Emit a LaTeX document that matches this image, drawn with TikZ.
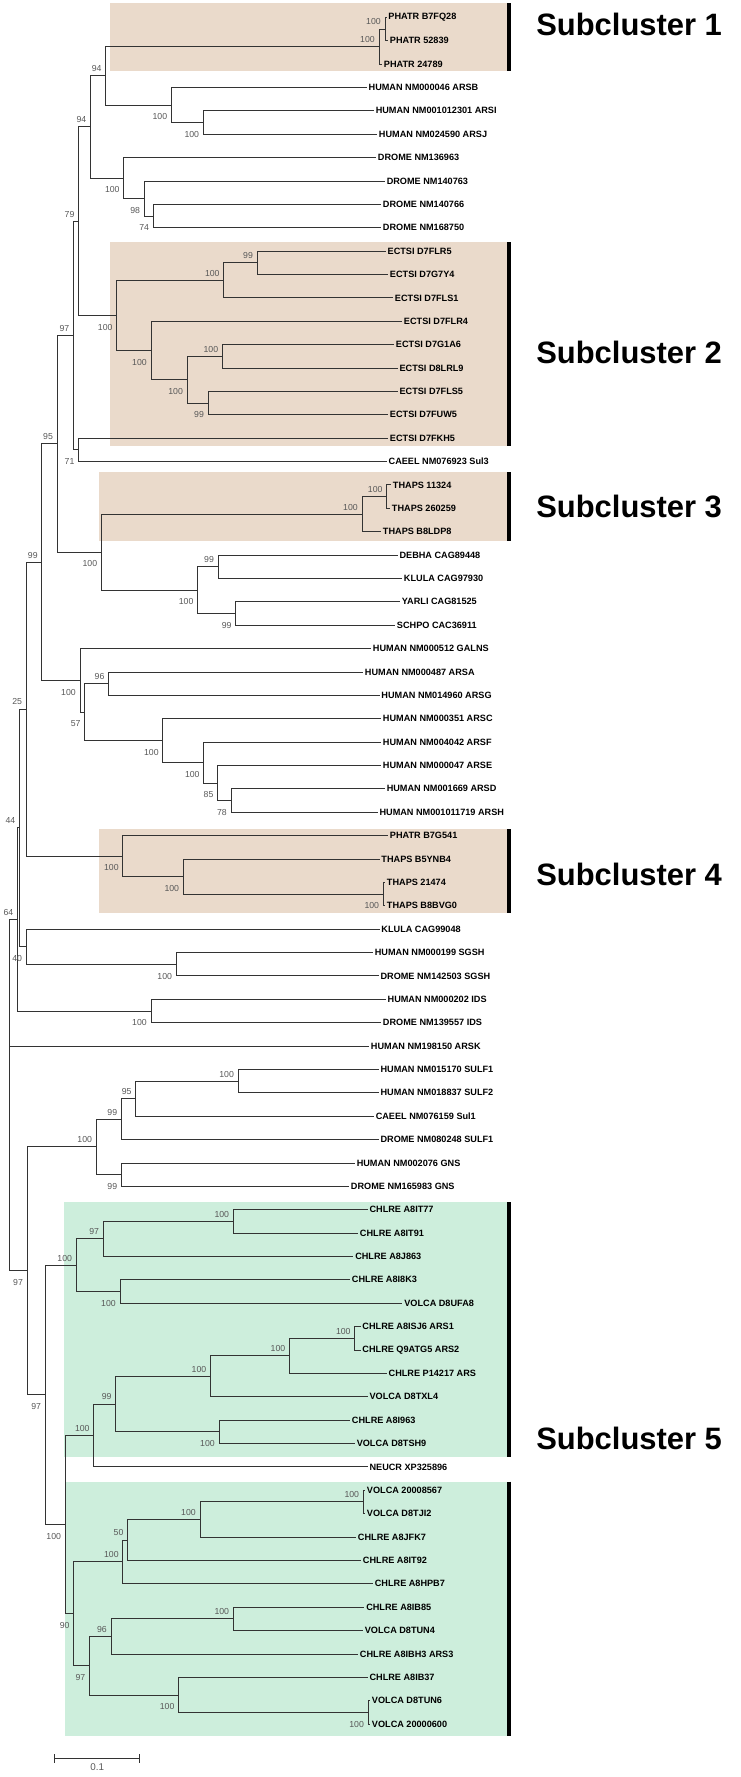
\documentclass[tikz,border=0pt]{standalone}
\usepackage{fontspec}
\setmainfont{Liberation Sans}
\usetikzlibrary{calc}

\definecolor{subbeige}{RGB}{234,218,203}
\definecolor{subgreen}{RGB}{205,238,220}

\tikzset{
  branch/.style={draw=black!80, line width=0.6pt},
  leaf/.style={anchor=west, inner sep=1.2pt, font=\bfseries\fontsize{6.5}{7}\selectfont},
  bsbase/.style={inner sep=0pt, text=black!65, font=\fontsize{6.2}{7}\selectfont},
  bsa/.style={bsbase, anchor=south east, xshift=-2.8pt, yshift=2.6pt},
  bsb/.style={bsbase, anchor=north east, xshift=-2.8pt, yshift=-6pt},
  subc/.style={anchor=west, inner sep=0pt, font=\bfseries\fontsize{22}{25}\selectfont},
  bar/.style={line width=2.3pt}
}

\begin{document}
\begin{tikzpicture}[x=0.25mm, y=-0.25mm]
  \useasboundingbox (0,0) rectangle (740,1777);

  % boxes of the subclusters
  \fill[subbeige] (110,3.3) rectangle (509,70.7);
  \fill[subbeige] (110,242.3) rectangle (509,445.7);
  \fill[subbeige] (98.6,472.3) rectangle (509,540.7);
  \fill[subbeige] (98.6,829) rectangle (509,913.3);
  \fill[subgreen] (64.3,1202.3) rectangle (509,1456.7);
  \fill[subgreen] (65.2,1481.7) rectangle (509,1735.7);

  \foreach \ya/\yb in {3.3/70.7, 242.3/445.7, 472.3/540.7, 829/913.3, 1202.3/1456.7, 1481.7/1735.7}
    \draw[bar] (509,\ya) -- (509,\yb);

  \node[subc] (sc1) at (536,24) {Subcluster 1};
  \node[subc] (sc2) at (536,352) {Subcluster 2};
  \node[subc] (sc3) at (536,506) {Subcluster 3};
  \node[subc] (sc4) at (536,874) {Subcluster 4};
  \node[subc] (sc5) at (536,1438) {Subcluster 5};

  % leaves
  \foreach \nm/\tx/\txt [count=\i] in {
    phatrB7FQ28/386.5/PHATR B7FQ28, phatr52839/388/PHATR 52839, phatr24789/382/PHATR 24789,
    arsb/366.7/HUMAN NM000046 ARSB, arsi/373.8/HUMAN NM001012301 ARSI, arsj/377/HUMAN NM024590 ARSJ,
    drome136963/376/DROME NM136963, drome140763/384.8/DROME NM140763,
    drome140766/381/DROME NM140766, drome168750/381/DROME NM168750,
    ectsiFLR5/385.7/ECTSI D7FLR5, ectsiG7Y4/388/ECTSI D7G7Y4, ectsiFLS1/393/ECTSI D7FLS1,
    ectsiFLR4/402/ECTSI D7FLR4, ectsiG1A6/394/ECTSI D7G1A6, ectsiLRL9/397.6/ECTSI D8LRL9,
    ectsiFLS5/397.6/ECTSI D7FLS5, ectsiFUW5/388/ECTSI D7FUW5, ectsiFKH5/388/ECTSI D7FKH5,
    caeelSul3/386.7/CAEEL NM076923 Sul3,
    thaps11324/391/THAPS 11324, thaps260259/390/THAPS 260259, thapsB8LDP8/381/THAPS B8LDP8,
    debha/397.6/DEBHA CAG89448, klula97930/402/KLULA CAG97930,
    yarli/400/YARLI CAG81525, schpo/395/SCHPO CAC36911,
    galns/371/HUMAN NM000512 GALNS, arsa/363/HUMAN NM000487 ARSA, arsg/379.5/HUMAN NM014960 ARSG,
    arsc/381/HUMAN NM000351 ARSC, arsf/381/HUMAN NM004042 ARSF, arse/381/HUMAN NM000047 ARSE,
    arsd/384.8/HUMAN NM001669 ARSD, arsh/377.6/HUMAN NM001011719 ARSH,
    phatrB7G541/388/PHATR B7G541, thapsB5YNB4/379.5/THAPS B5YNB4,
    thaps21474/385/THAPS 21474, thapsB8BVG0/385/THAPS B8BVG0,
    klula99048/379.5/KLULA CAG99048,
    sgshH/372.9/HUMAN NM000199 SGSH, sgshD/378.6/DROME NM142503 SGSH,
    idsH/385.7/HUMAN NM000202 IDS, idsD/381/DROME NM139557 IDS,
    arsk/369/HUMAN NM198150 ARSK,
    sulf1H/378.6/HUMAN NM015170 SULF1, sulf2H/378.6/HUMAN NM018837 SULF2,
    caeelSul1/373.8/CAEEL NM076159 Sul1, sulf1D/378.6/DROME NM080248 SULF1,
    gnsH/354.8/HUMAN NM002076 GNS, gnsD/349/DROME NM165983 GNS,
    chlreIT77/367.6/CHLRE A8IT77, chlreIT91/358/CHLRE A8IT91, chlreJ863/353.3/CHLRE A8J863,
    chlreI8K3/350/CHLRE A8I8K3, volcaUFA8/402.4/VOLCA D8UFA8,
    chlreARS1/360.5/CHLRE A8ISJ6 ARS1, chlreARS2/360.5/CHLRE Q9ATG5 ARS2,
    chlreARS/386.7/CHLRE P14217 ARS, volcaTXL4/367.6/VOLCA D8TXL4,
    chlreI963/350/CHLRE A8I963, volcaTSH9/354.8/VOLCA D8TSH9,
    neucr/367.6/NEUCR XP325896,
    volca08567/365/VOLCA 20008567, volcaTJI2/365/VOLCA D8TJI2,
    chlreJFK7/356/CHLRE A8JFK7, chlreIT92/361/CHLRE A8IT92, chlreHPB7/372.9/CHLRE A8HPB7,
    chlreIB85/364.3/CHLRE A8IB85, volcaTUN4/362.9/VOLCA D8TUN4,
    chlreARS3/358/CHLRE A8IBH3 ARS3, chlreIB37/367.6/CHLRE A8IB37,
    volcaTUN6/370/VOLCA D8TUN6, volca00600/370/VOLCA 20000600}
    \node[leaf] (\nm) at (\tx,{17.3+(\i-1)*23.38}) {\txt};

  % inner nodes
  \foreach \nm/\nx/\ny in {
    nP12/385/29.0, nP/379/46.5, nARSIJ/203.3/122.5, nARSB/171.4/105.0, n94a/105.7/75.8,
    nD3/153.3/216.0, nD2/144.3/198.5, nD1/123.8/178.0, n94b/90.5/126.9,
    nE11/257.1/262.8, nE1/223.8/280.3, nE211/222.4/356.3, nE212/208.1/403.1,
    nE21/187.1/379.7, nE2/151.0/350.5, nE/116.7/315.4,
    n79/78.6/221.2, n71/78.6/449.8, n97/73.5/335.5,
    nT12/386.7/496.6, nT/362.0/514.1, nY1/218.1/566.7, nY2/235.7/613.5, nY/197.6/590.1,
    nTY/101.4/552.1, n95/57.1/443.8,
    nAG/108.6/683.6, nDH/231.0/800.5, nEE/217.6/783.0, nF/203.8/762.6, nC/162.9/740.6,
    nH2/84.8/712.1, nH/80.0/680.4, n99/41.9/562.1,
    n4c/383.3/894.0, n4b/183.3/876.5, n4/122.9/856.0, n25/26.2/709.0,
    nSG/176.2/964.2, n40/26.2/946.7, n44/19.5/827.9, nIDS/151.0/1011.0, n64/17.5/919.5,
    root/9.5/1046.0,
    nSU/238.1/1081.1, nS1/135.7/1098.7, nS/121.4/1119.1, nGNS/121.4/1174.6, nSG2/96.2/1146.9,
    nIT/233.3/1221.4, n5a11/103.3/1238.9, n5a12/120.0/1291.5, n5a1/76.2/1265.2,
    nARS3/354.8/1338.3, nARS2/289.5/1355.8, nARS1/210.5/1376.3, nI963/219.0/1431.8,
    nARS/115.7/1404.0, nN/93.8/1435.4,
    nV/363.3/1501.9, nV2/200.0/1519.5, nV3/127.6/1540.0, nV4/122.9/1561.9,
    nB85/233.3/1618.8, nW1/111.0/1636.4, nT6/368.1/1712.4, nW2/178.6/1694.9, nW/89.5/1665.6,
    nG2/73.8/1613.8, nX/65.2/1524.6, n5/45.2/1394.9, nB/27.1/1270.9}
    \coordinate (\nm) at (\nx,\ny);

  % branches
  \foreach \p/\c in {
    nP12/phatrB7FQ28, nP12/phatr52839, nP/nP12, nP/phatr24789,
    nARSIJ/arsi, nARSIJ/arsj, nARSB/arsb, nARSB/nARSIJ, n94a/nP, n94a/nARSB,
    nD3/drome140766, nD3/drome168750, nD2/drome140763, nD2/nD3, nD1/drome136963, nD1/nD2,
    n94b/n94a, n94b/nD1,
    nE11/ectsiFLR5, nE11/ectsiG7Y4, nE1/nE11, nE1/ectsiFLS1,
    nE211/ectsiG1A6, nE211/ectsiLRL9, nE212/ectsiFLS5, nE212/ectsiFUW5,
    nE21/nE211, nE21/nE212, nE2/ectsiFLR4, nE2/nE21, nE/nE1, nE/nE2,
    n79/n94b, n79/nE, n71/ectsiFKH5, n71/caeelSul3, n97/n79, n97/n71,
    nT12/thaps11324, nT12/thaps260259, nT/nT12, nT/thapsB8LDP8,
    nY1/debha, nY1/klula97930, nY2/yarli, nY2/schpo, nY/nY1, nY/nY2,
    nTY/nT, nTY/nY, n95/n97, n95/nTY,
    nAG/arsa, nAG/arsg, nDH/arsd, nDH/arsh, nEE/arse, nEE/nDH, nF/arsf, nF/nEE,
    nC/arsc, nC/nF, nH2/nAG, nH2/nC, nH/galns, nH/nH2, n99/n95, n99/nH,
    n4c/thaps21474, n4c/thapsB8BVG0, n4b/thapsB5YNB4, n4b/n4c, n4/phatrB7G541, n4/n4b,
    n25/n99, n25/n4, nSG/sgshH, nSG/sgshD, n40/klula99048, n40/nSG, n44/n25, n44/n40,
    nIDS/idsH, nIDS/idsD, n64/n44, n64/nIDS,
    root/n64, root/arsk, root/nB,
    nSU/sulf1H, nSU/sulf2H, nS1/nSU, nS1/caeelSul1, nS/nS1, nS/sulf1D,
    nGNS/gnsH, nGNS/gnsD, nSG2/nS, nSG2/nGNS,
    nIT/chlreIT77, nIT/chlreIT91, n5a11/nIT, n5a11/chlreJ863,
    n5a12/chlreI8K3, n5a12/volcaUFA8, n5a1/n5a11, n5a1/n5a12,
    nARS3/chlreARS1, nARS3/chlreARS2, nARS2/nARS3, nARS2/chlreARS,
    nARS1/nARS2, nARS1/volcaTXL4, nI963/chlreI963, nI963/volcaTSH9,
    nARS/nARS1, nARS/nI963, nN/nARS, nN/neucr,
    nV/volca08567, nV/volcaTJI2, nV2/nV, nV2/chlreJFK7, nV3/nV2, nV3/chlreIT92,
    nV4/nV3, nV4/chlreHPB7,
    nB85/chlreIB85, nB85/volcaTUN4, nW1/nB85, nW1/chlreARS3,
    nT6/volcaTUN6, nT6/volca00600, nW2/chlreIB37, nW2/nT6, nW/nW1, nW/nW2,
    nG2/nV4, nG2/nW, nX/nN, nX/nG2, n5/n5a1, n5/nX, nB/nSG2, nB/n5}
    \draw[branch] (\p) |- (\c);

  % bootstrap values
  \foreach \nm/\v in {nP12/100, nP/100, n94a/94, n94b/94, nE11/99, nE1/100, nE211/100,
    n79/79, n97/97, nT12/100, nT/100, nY1/99, n95/95, nAG/96, n99/99, n25/25, n44/44,
    n64/64, nSU/100, nS1/95, nS/99, nSG2/100, nIT/100, n5a11/97, n5a1/100,
    nARS3/100, nARS2/100, nARS1/100, nARS/99, nN/100, nV/100, nV2/100, nV3/50,
    nV4/100, nB85/100, nW1/96}
    \node[bsa] (v\nm) at (\nm) {\v};

  \foreach \nm/\v in {nARSIJ/100, nARSB/100, nD3/74, nD2/98, nD1/100, nE212/99,
    nE21/100, nE2/100, nE/100, n71/71, nY2/99, nY/100, nTY/100, nDH/78, nEE/85,
    nF/100, nC/100, nH2/57, nH/100, n4c/100, n4b/100, n4/100, nSG/100, n40/40,
    nIDS/100, nGNS/99, nB/97, n5a12/100, nI963/100, n5/97, nT6/100, nW2/100,
    nW/97, nG2/90, nX/100}
    \node[bsb] (v\nm) at (\nm) {\v};

  % scale bar
  \coordinate (sbL) at (54.8,1758.3);
  \coordinate (sbR) at (139.5,1758.3);
  \draw[branch] (sbL) -- (sbR);
  \foreach \e in {sbL,sbR}
    \draw[branch] ([yshift=3pt]\e) -- ([yshift=-3pt]\e);
  \node[bsbase, font=\fontsize{7}{8}\selectfont, anchor=north] (sbtxt) at ($(sbL)!.5!(sbR)+(0,5)$) {0.1};
\end{tikzpicture}
\end{document}
